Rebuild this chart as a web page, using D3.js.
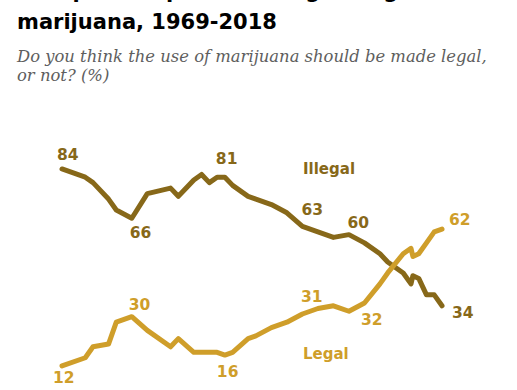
<!DOCTYPE html>
<html><head><meta charset="utf-8">
<script src="https://cdn.jsdelivr.net/npm/d3@7"></script>
<style>body{margin:0;background:#fff}svg{display:block}</style>
</head><body><svg id="c" width="517" height="390"></svg>
<script>
// ---- data ----
const years   = [1969,1972,1973,1975,1976,1978,1980,1983,1984,1986,1987,1988,1989,1990,1991,1993,1994,1996,1998,2000,2002,2004,2006,2008,2010,2011,2013,2014,2014.25,2015,2016,2017,2018];
const illegal = [84,81,79,73,69,66,75,77,74,80,82,79,81,81,78,74,73,71,68,63,61,59,60,57,53,50,46,42,45,44,38,38,34];
const legal   = [12,15,19,20,28,30,25,19,22,17,17,17,17,16,17,22,23,26,28,31,33,34,32,35,42,46,53,55,52,53,57,61,62];
const labelYears = [1969,1978,1990,2000,2006,2018];
const seriesNames = ["Illegal","Legal"];
const titleLines = ["U.S. public opinion on legalizing","marijuana, 1969-2018"];
const subtitleLines = ["Do you think the use of marijuana should be made legal,","or not? (%)"];

// ---- layout / style (kept apart from data) ----
const colors = {Illegal:"#876819", Legal:"#cf9e2a"};
const illegalOffsets = [[-5,-9],[-2,20],[-9,-13],[-1,-11.5],[-1.5,-7],[10,12.5]];
const legalOffsets   = [[-9,17],[-3,-7],[-8,21.5],[-1.5,-12],[12,14],[7,-4]];
const nameAnchors = {Illegal:[2000,82], Legal:[2000,14.5]};

const svg = d3.select("#c");
const x = d3.scaleLinear().domain([1969,2018]).range([62,442]);
const y = d3.scaleLinear().domain([0,100]).range([398.8,125.2]);

// title
svg.append("g").selectAll("text").data(titleLines).join("text")
  .attr("x",17).attr("y",(d,i)=>-2+i*31)
  .attr("font-family","DejaVu Sans").attr("font-weight","bold").attr("font-size",21)
  .attr("fill","#000").text(d=>d);
svg.append("g").selectAll("text").data(subtitleLines).join("text")
  .attr("x",17).attr("y",(d,i)=>62+i*19)
  .attr("font-family","DejaVu Serif").attr("font-style","italic").attr("font-size",16.4)
  .attr("fill","#5e5e5e").text(d=>d);

const series = [
  {name:"Illegal", values: illegal, offsets: illegalOffsets},
  {name:"Legal", values: legal, offsets: legalOffsets}
];
const line = d3.line().x((d,i)=>x(years[i])).y(d=>y(d));

svg.append("g").selectAll("path").data(series).join("path")
  .attr("d",s=>line(s.values)).attr("fill","none")
  .attr("stroke",s=>colors[s.name]).attr("stroke-width",5)
  .attr("stroke-linejoin","round").attr("stroke-linecap","round");

series.forEach(s=>{
  svg.append("g").selectAll("text").data(labelYears).join("text")
    .attr("x",(yr,i)=>x(yr)+s.offsets[i][0])
    .attr("y",(yr,i)=>y(s.values[years.indexOf(yr)])+s.offsets[i][1])
    .attr("font-family","DejaVu Sans").attr("font-weight","bold").attr("font-size",15.5)
    .attr("fill",colors[s.name])
    .text(yr=>s.values[years.indexOf(yr)]);
});

svg.append("g").selectAll("text").data(seriesNames).join("text")
  .attr("x",d=>x(nameAnchors[d][0])+0.6).attr("y",d=>y(nameAnchors[d][1]))
  .attr("font-family","DejaVu Sans").attr("font-weight","bold").attr("font-size",15)
  .attr("fill",d=>colors[d]).text(d=>d);
</script>
</body></html>
